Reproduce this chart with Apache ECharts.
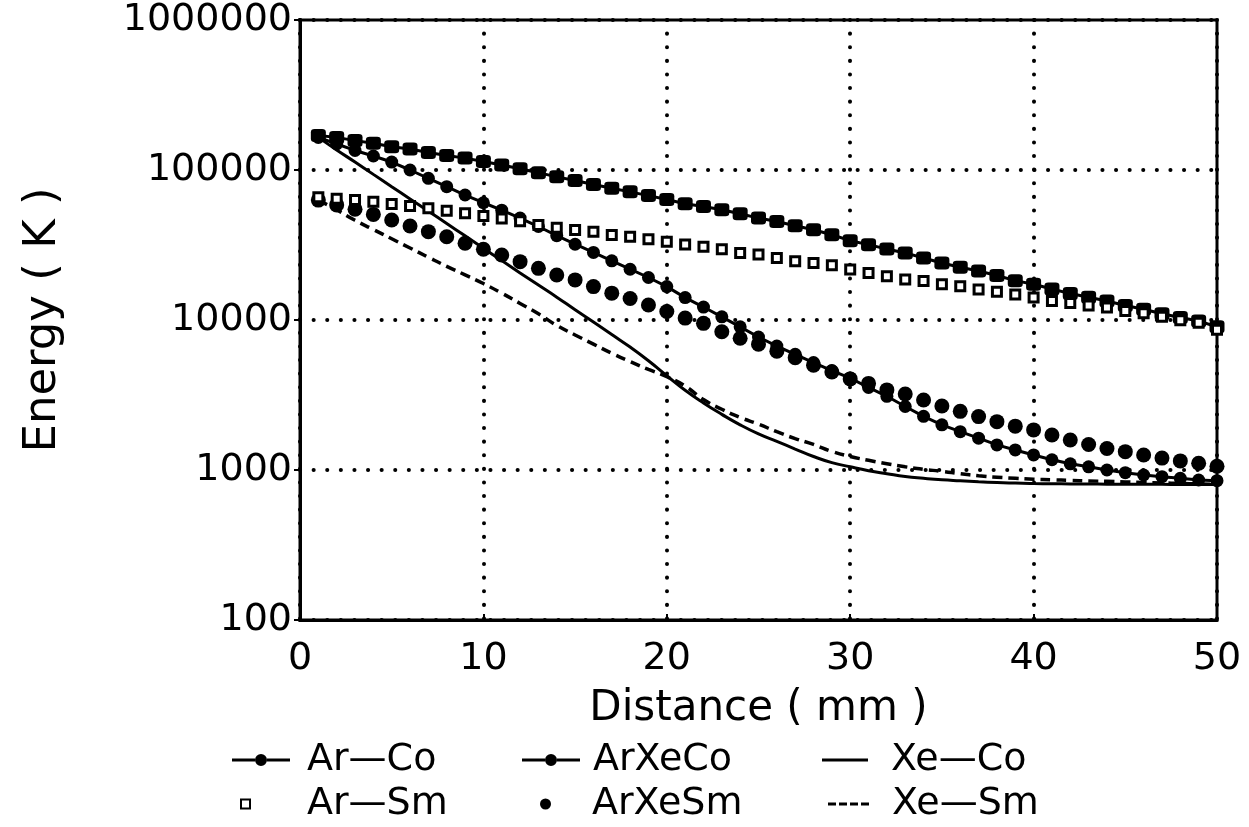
<!DOCTYPE html>
<html>
<head>
<meta charset="utf-8">
<script src="https://cdn.jsdelivr.net/npm/echarts@6/dist/echarts.min.js"></script>
<style>
  html, body { margin: 0; padding: 0; background: #fff; }
  #chart { width: 1249px; height: 827px; }
</style>
</head>
<body>
<div id="chart"></div>
<script>
// Distance along the gap (mm), one sample per millimetre
const distances = [1,2,3,4,5,6,7,8,9,10,11,12,13,14,15,16,17,18,19,20,21,22,23,24,25,
  26,27,28,29,30,31,32,33,34,35,36,37,38,39,40,41,42,43,44,45,46,47,48,49,50];

// Energy (K) for each gas / target combination
const arCo = [170000,165000,157000,151000,143000,138000,131000,125000,120000,114000,
  108000,102000,96000,90000,85000,80000,75500,71500,67500,63500,
  59500,57100,54300,51100,47800,45400,42500,40000,37000,33800,
  31800,29700,28000,25900,24000,22500,21200,19800,18300,17300,
  16100,15000,14200,13400,12500,11800,11000,10400,9850,9000];

const arXeCo = [165000,149000,135000,124000,113000,100000,88000,77400,68100,60500,
  54000,47800,42000,36500,32000,28200,24800,21800,19200,16700,
  14100,12200,10500,9000,7700,6700,5900,5200,4600,4100,
  3550,3100,2650,2280,2000,1800,1630,1470,1360,1260,
  1170,1100,1050,1000,960,926,903,880,858,849];

const xeCo = [165000,136000,113000,93500,77400,64100,53100,44000,36400,30100,
  24900,20600,17100,14200,11700,9700,8000,6600,5350,4250,
  3400,2800,2350,2000,1740,1550,1380,1230,1120,1050,
  990,945,905,880,860,847,835,826,818,813,
  810,808,806,805,804,803,802,801,800,800];

const arSm = [65800,64400,63100,61500,59300,57500,55500,53500,51400,49400,
  47500,45500,43000,41200,39800,38800,36900,35900,34500,33300,
  31900,30800,29600,28000,27300,25900,24600,24000,23200,21700,
  20600,19600,18600,18200,17300,16800,16000,15400,14800,14100,
  13400,13000,12500,12100,11500,11100,10500,9950,9600,8600];

const arXeSm = [63000,58500,54700,50600,46400,42300,38800,35900,32500,29600,
  27100,24500,22100,19950,18500,16700,15100,13900,12600,11400,
  10300,9500,8350,7550,6900,6200,5600,5000,4500,4050,
  3780,3420,3210,2930,2670,2460,2270,2100,1960,1850,
  1710,1585,1480,1390,1325,1260,1200,1150,1110,1060];

const xeSm = [63000,54300,46200,40100,34800,30200,26200,22800,20000,17500,
  15100,12900,11000,9200,7950,6900,6000,5280,4680,4190,
  3630,2950,2540,2240,2020,1800,1620,1480,1330,1230,
  1160,1100,1050,1010,980,945,915,895,880,867,
  860,853,846,840,833,826,820,814,808,802];

const xTicks = [0, 10, 20, 30, 40, 50];
const yTickLabels = ['100', '1000', '10000', '100000', '1000000'];

const FONT = 'DejaVu Sans';
const pairs = (ys) => distances.map((d, i) => [d, ys[i]]);

// Legend glyphs: line with a dot, plain line, dashed line
const ICON_LINE_DOT = 'path://M0,5.5h23v3h-23z M35,5.5h23v3h-23z M23,7a6,6 0 1,1 12,0a6,6 0 1,1 -12,0z';
const ICON_LINE = 'path://M0,0h48v3h-48z';
const ICON_DASH = 'path://M0,0h8v3h-8z M11,0h8v3h-8z M22,0h8v3h-8z M33,0h8v3h-8z';

const chart = echarts.init(document.getElementById('chart'), null, { renderer: 'canvas' });

const dotted = { color: '#000', width: 4, type: [0.1, 13.5], cap: 'round' };

function legendAt(item, left, top, w, h, gap) {
  return {
    data: [item],
    left: left,
    top: top,
    orient: 'horizontal',
    selectedMode: false,
    padding: 0,
    itemWidth: w,
    itemHeight: h,
    textStyle: { fontFamily: FONT, fontSize: 38, color: '#000', padding: [0, 0, 0, gap] }
  };
}

chart.setOption({
  animation: false,
  backgroundColor: '#fff',
  grid: {
    left: 300, top: 20, right: 32, bottom: 207,
    show: true, borderColor: '#000', borderWidth: 3, backgroundColor: 'transparent'
  },
  xAxis: {
    type: 'value', min: xTicks[0], max: xTicks[xTicks.length - 1], interval: 10,
    name: 'Distance ( mm )', nameLocation: 'middle', nameGap: 68,
    nameTextStyle: { fontFamily: FONT, fontSize: 42, color: '#000' },
    axisLine: { lineStyle: { color: '#000', width: 3 } },
    axisTick: { show: true, inside: true, length: 6, lineStyle: { color: '#000', width: 2 } },
    axisLabel: { fontFamily: FONT, fontSize: 38, color: '#000', margin: 20 },
    splitLine: { show: true, lineStyle: dotted }
  },
  yAxis: {
    type: 'log', logBase: 10, min: 100, max: 1000000,
    name: 'Energy ( K )', nameLocation: 'middle', nameGap: 234,
    nameTextStyle: { fontFamily: FONT, fontSize: 45, color: '#000' },
    axisLine: { lineStyle: { color: '#000', width: 3 } },
    axisTick: { show: true, length: 6, lineStyle: { color: '#000', width: 2 } },
    axisLabel: {
      fontFamily: FONT, fontSize: 38, color: '#000', margin: 8,
      formatter: (v) => yTickLabels[Math.round(Math.log10(v)) - 2]
    },
    splitLine: { show: true, lineStyle: dotted }
  },
  legend: [
    legendAt({ name: 'Ar—Co', icon: ICON_LINE_DOT }, 232, 741, 58, 14, 12),
    legendAt({ name: 'ArXeCo', icon: ICON_LINE_DOT }, 522, 741, 58, 14, 8),
    legendAt({ name: 'Xe—Co', icon: ICON_LINE }, 822, 741, 46, 3, 18),
    legendAt({ name: 'Ar—Sm', icon: 'rect' }, 240, 785, 9, 9, 52),
    legendAt({ name: 'ArXeSm', icon: 'circle' }, 540, 785, 11, 13, 36),
    legendAt({ name: 'Xe—Sm', icon: ICON_DASH }, 828, 785, 41, 3, 18)
  ],
  series: [
    {
      name: 'Xe—Co', type: 'line', data: pairs(xeCo), smooth: true,
      showSymbol: false, symbol: 'none',
      lineStyle: { color: '#000', width: 3 }, itemStyle: { color: '#000' }, z: 2
    },
    {
      name: 'Xe—Sm', type: 'line', data: pairs(xeSm), smooth: true,
      showSymbol: false, symbol: 'none',
      lineStyle: { color: '#000', width: 3.5, type: [10, 6] }, itemStyle: { color: '#000' }, z: 2
    },
    {
      name: 'Ar—Co', type: 'line', data: pairs(arCo),
      symbol: 'roundRect', symbolSize: [15, 13],
      lineStyle: { color: '#000', width: 3 }, itemStyle: { color: '#000' }, z: 3
    },
    {
      name: 'ArXeCo', type: 'line', data: pairs(arXeCo),
      symbol: 'circle', symbolSize: 13,
      lineStyle: { color: '#000', width: 3 }, itemStyle: { color: '#000' }, z: 3
    },
    {
      name: 'ArXeSm', type: 'scatter', data: pairs(arXeSm),
      symbol: 'circle', symbolSize: 15,
      itemStyle: { color: '#000', opacity: 1 }, z: 4
    },
    {
      name: 'Ar—Sm', type: 'scatter', data: pairs(arSm),
      symbol: 'rect', symbolSize: 9,
      itemStyle: { color: '#fff', borderColor: '#000', borderWidth: 3, opacity: 1 }, z: 5
    }
  ]
});
</script>
</body>
</html>
